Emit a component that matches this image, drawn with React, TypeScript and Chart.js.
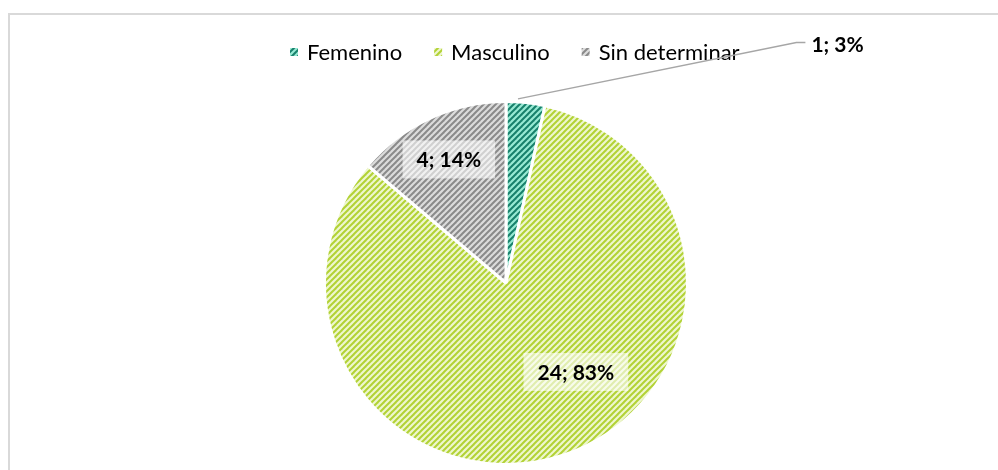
import React, { useEffect, useRef } from "react";
import { Chart, registerables } from "chart.js";
Chart.register(...registerables);

const categories = ["Femenino", "Masculino", "Sin determinar"];
const values = [1, 24, 4];
const percentLabels = ["3%", "83%", "14%"];
const fgColors = ["#17806b", "#b2d235", "#8a8a8a"];
const bgColors = ["#98ead4", "#eef7cf", "#dcdcdc"];

const FONT = "Lato, 'Open Sans', sans-serif";

function makePattern(fg: string, bg: string) {
  const c = document.createElement("canvas");
  c.width = 6;
  c.height = 6;
  const x = c.getContext("2d")!;
  x.fillStyle = bg;
  x.fillRect(0, 0, 6, 6);
  x.strokeStyle = fg;
  x.lineWidth = 2;
  for (const o of [-6, 0, 6]) {
    x.beginPath();
    x.moveTo(o - 1, 7);
    x.lineTo(o + 7, -1);
    x.stroke();
  }
  return x.createPattern(c, "repeat")!;
}

export default function App() {
  const ref = useRef<HTMLCanvasElement>(null);
  useEffect(() => {
    const canvas = ref.current!;
    const patterns = fgColors.map((fg, i) => makePattern(fg, bgColors[i]));
    const total = values.reduce((a, b) => a + b, 0);

    const deco = {
      id: "deco",
      beforeDraw(chart: any) {
        const ctx = chart.ctx;
        ctx.save();
        ctx.strokeStyle = "#d9d9d9";
        ctx.lineWidth = 2;
        ctx.strokeRect(9, 14, 2000, 2000);
        ctx.restore();
      },
      afterDatasetsDraw(chart: any) {
        const ctx = chart.ctx;
        const meta = chart.getDatasetMeta(0);
        ctx.save();
        // legend
        ctx.font = `22px ${FONT}`;
        ctx.textBaseline = "middle";
        let lx = 290;
        const ly = 52;
        categories.forEach((c, i) => {
          ctx.fillStyle = patterns[i];
          ctx.fillRect(lx, ly - 4, 8, 8);
          ctx.fillStyle = "#000";
          ctx.fillText(c, lx + 17, ly + 1);
          lx += 17 + ctx.measureText(c).width + 32;
        });
        // labels
        ctx.font = `bold 21px ${FONT}`;
        meta.data.forEach((el: any, i: number) => {
          const p = el.getProps(["x", "y", "startAngle", "endAngle", "outerRadius"], true);
          const r = p.outerRadius;
          const txt = `${values[i]}; ${percentLabels[i] ?? Math.round((values[i] / total) * 100) + "%"}`;
          if (i === 0) {
            const a = p.startAngle + (p.endAngle - p.startAngle) * 0.3;
            const sx = p.x + Math.cos(a) * (r + 3);
            const sy = p.y + Math.sin(a) * (r + 3);
            const ex = p.x + r * 1.6;
            const ey = p.y - r * 1.325;
            ctx.strokeStyle = "#a6a6a6";
            ctx.lineWidth = 1.5;
            ctx.beginPath();
            ctx.moveTo(sx, sy);
            ctx.lineTo(ex, ey);
            ctx.lineTo(ex + 9, ey);
            ctx.stroke();
            ctx.fillStyle = "#000";
            ctx.textAlign = "left";
            ctx.fillText(txt, ex + 15, ey + 3);
            return;
          }
          let cx: number, cy: number;
          if (i === 1) {
            cx = p.x + r * 0.385;
            cy = p.y + r * 0.49;
          } else {
            const a = (p.startAngle + p.endAngle) / 2;
            cx = p.x + Math.cos(a) * r * 0.75;
            cy = p.y + Math.sin(a) * r * 0.75;
          }
          const w = ctx.measureText(txt).width + 28;
          const h = 38;
          ctx.fillStyle = "rgba(255,255,255,0.6)";
          ctx.fillRect(cx - w / 2, cy - h / 2, w, h);
          ctx.fillStyle = "#000";
          ctx.textAlign = "center";
          ctx.fillText(txt, cx, cy + 1);
        });
        ctx.restore();
      },
    };

    const chart = new Chart(canvas, {
      type: "pie",
      data: {
        labels: categories,
        datasets: [
          {
            data: values,
            backgroundColor: patterns as any,
            borderColor: "#ffffff",
            borderWidth: 3,
          },
        ],
      },
      options: {
        animation: false,
        responsive: false,
        maintainAspectRatio: false,
        layout: { padding: { top: 100, bottom: 4, left: 14, right: 0 } },
        plugins: { legend: { display: false }, tooltip: { enabled: false } },
      },
      plugins: [deco],
    });
    return () => chart.destroy();
  }, []);
  return (
    <div style={{ position: "fixed", left: 0, top: 0, width: 998, height: 470, background: "#fff" }}>
      <canvas ref={ref} width={998} height={470} />
    </div>
  );
}
